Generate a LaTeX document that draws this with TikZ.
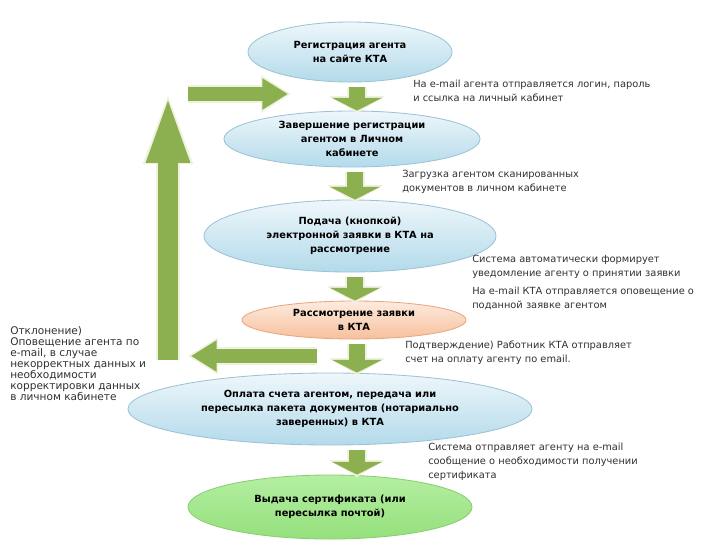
\documentclass[tikz,border=0pt]{standalone}
\usepackage{fontspec}
\setmainfont{DejaVu Sans}
\usetikzlibrary{shapes.geometric,arrows.meta}
\definecolor{skytop}{HTML}{EEF7FB}
\definecolor{skybot}{HTML}{B3DAEA}
\definecolor{skyrim}{HTML}{9CC3D5}
\definecolor{peachtop}{HTML}{FDEBDF}
\definecolor{peachbot}{HTML}{F7C09C}
\definecolor{peachrim}{HTML}{E9A67F}
\definecolor{leaftop}{HTML}{B4EFA2}
\definecolor{leafbot}{HTML}{95E07C}
\definecolor{leafrim}{HTML}{8ACD74}
\definecolor{olive}{HTML}{8CB050}
\definecolor{olivrim}{HTML}{EEF2DE}
\definecolor{inkgray}{HTML}{303030}
\tikzset{
  bubble/.style={ellipse, draw=skyrim, line width=0.6pt, top color=skytop, bottom color=skybot,
    inner sep=0pt, align=center, font=\fontsize{7}{10}\selectfont\bfseries},
  peachbubble/.style={bubble, draw=peachrim, top color=peachtop, bottom color=peachbot},
  leafbubble/.style={bubble, draw=leafrim, top color=leaftop, bottom color=leafbot},
  remark/.style={anchor=north west, inner sep=0pt, align=left, text=inkgray, font=\fontsize{7}{10}\selectfont},
  downrim/.style={draw=olivrim, line width=0.5cm, -{Triangle[width=1.39cm,length=0.42cm]}, shorten >=-0.06cm},
  down/.style={draw=olive, line width=0.4cm, -{Triangle[width=1.25cm,length=0.32cm]}},
  siderim/.style={draw=olivrim, line width=0.45cm, -{Triangle[width=0.88cm,length=0.75cm]}, shorten >=-0.08cm},
  side/.style={draw=olive, line width=0.35cm, -{Triangle[width=0.74cm,length=0.64cm]}},
  uprim/.style={draw=olivrim, line width=0.6cm, -{Triangle[width=1.1cm,length=1.85cm]}, shorten >=-0.1cm},
  up/.style={draw=olive, line width=0.48cm, -{Triangle[width=0.96cm,length=1.72cm]}},
}
\begin{document}
\begin{tikzpicture}[x=0.025cm, y=-0.025cm]
\useasboundingbox (0,0) rectangle (720,540);

% stages
\node[bubble, minimum width=5.1cm, minimum height=1.5cm] (reg) at (350,52) {Регистрация агента\\на сайте КТА};
\node[bubble, minimum width=6.4cm, minimum height=1.4cm] (fin) at (352,139) {Завершение регистрации\\агентом в Личном\\кабинете};
\node[bubble, minimum width=7.3cm, minimum height=1.8cm] (sub) at (350,236) {Подача (кнопкой)\\электронной заявки в КТА на\\рассмотрение};
\node[peachbubble, minimum width=5.6cm, minimum height=0.95cm] (rev) at (354,320) {Рассмотрение заявки\\в КТА};
\node[bubble, minimum width=10.1cm, minimum height=1.8cm] (pay) at (330,409) {Оплата счета агентом, передача или\\пересылка пакета документов (нотариально\\заверенных) в КТА};
\node[leafbubble, minimum width=7.1cm, minimum height=1.6cm] (cert) at (330,507) {Выдача сертификата (или\\пересылка почтой)};

% remarks
\node[remark] (r1) at (413,80) {На e-mail агента отправляется логин, пароль\\и ссылка на личный кабинет};
\node[remark] (r2) at (402,170) {Загрузка агентом сканированных\\документов в личном кабинете};
\node[remark] (r3) at (472,255) {Система автоматически формирует\\уведомление агенту о принятии заявки};
\node[remark] (r4) at (472,287) {На e-mail КТА отправляется оповещение о\\поданной заявке агентом};
\node[remark] (r5) at (405,341) {Подтверждение) Работник КТА отправляет\\счет на оплату агенту по email.};
\node[remark, font=\fontsize{7.5}{7.9}\selectfont] (r6) at (10,326) {Отклонение)\\Оповещение агента по\\e-mail, в случае\\некорректных данных и\\необходимости\\корректировки данных\\в личном кабинете};
\node[remark] (r7) at (428,443) {Система отправляет агенту на e-mail\\сообщение о необходимости получении\\сертификата};

% down arrows
\foreach \a/\b/\x in {reg/fin/357, fin/sub/355, sub/rev/355, rev/pay/357, pay/cert/357} {
  \draw[downrim] ([yshift=-3pt]\a.south -| \x,0) -- (\b.north -| \x,0);
  \draw[down] ([yshift=-3pt]\a.south -| \x,0) -- (\b.north -| \x,0);
}

% loop back
\coordinate (lefttail) at (317,356);
\coordinate (lefttip) at (191,356);
\coordinate (upfoot) at (168,360);
\coordinate (uptip) at (168,94);
\coordinate (righttail) at (188,94);
\coordinate (righttip) at (288,94);
\draw[siderim] (lefttail) -- (lefttip);
\draw[side] (lefttail) -- (lefttip);
\draw[uprim] (upfoot) -- (uptip);
\draw[up] (upfoot) -- (uptip);
\draw[siderim] (righttail) -- (righttip);
\draw[side] (righttail) -- (righttip);
\end{tikzpicture}
\end{document}
